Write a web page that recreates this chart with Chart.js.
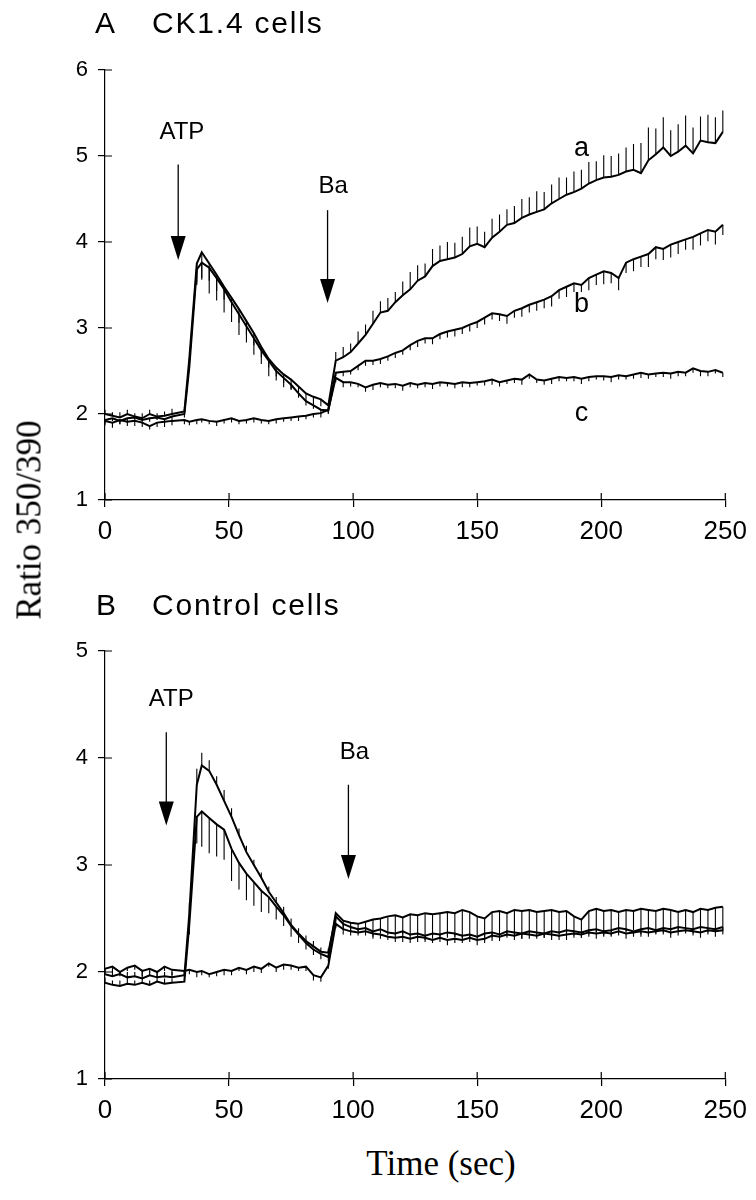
<!DOCTYPE html>
<html>
<head>
<meta charset="utf-8">
<script src="https://cdn.jsdelivr.net/npm/chart.js@4.4.1/dist/chart.umd.min.js"></script>
<style>
  html, body { margin: 0; padding: 0; background: #fff; }
  #page { position: relative; width: 756px; height: 1200px; overflow: hidden; }
  .wrap { position: absolute; left: 0; width: 756px; height: 560px; }
  .txt { position: absolute; white-space: nowrap; line-height: 1; color: #000; }
  .sans { font-family: 'Liberation Sans', Arial, sans-serif; font-size: 30px; letter-spacing: 1.8px; }
  .serif { font-family: 'Liberation Serif', 'Times New Roman', serif; font-size: 35px; }
</style>
</head>
<body>
<div id="page">
  <div class="wrap" style="top:0"><canvas id="chartA"></canvas></div>
  <div class="wrap" style="top:580px"><canvas id="chartB"></canvas></div>
  <div class="txt sans" style="left:95px;top:8px">A</div>
  <div class="txt sans" style="left:152px;top:8px">CK1.4 cells</div>
  <div class="txt sans" style="left:96px;top:590px">B</div>
  <div class="txt sans" style="left:152px;top:590px">Control cells</div>
  <div class="txt serif" style="left:29px;top:520px;transform:translate(-50%,-50%) rotate(-90deg)">Ratio 350/390</div>
  <div class="txt serif" style="left:441px;top:1146px;transform:translateX(-50%)">Time (sec)</div>
</div>
<script>
// time axis (sec), shared by both panels
const times = [0,3,6,9,12,15,18,21,24,27,32,34,37,39,42,45,48,51,54,57,60,63,66,69,72,75,78,81,84,87,90,
  93,96,99,102,105,108,111,114,117,120,123,126,129,132,135,138,141,144,147,150,153,156,159,162,165,168,171,174,177,180,
  183,186,189,192,195,198,201,204,207,210,213,216,219,222,225,228,231,234,237,240,243,246,249];
const xTicks = [0, 50, 100, 150, 200, 250];
const yTicksA = [1, 2, 3, 4, 5, 6];
const yTicksB = [1, 2, 3, 4, 5];

// Panel A: CK1.4 cells
const traceA_a = [2.00,1.98,1.96,2.00,1.97,1.95,2.00,1.97,1.98,2.00,2.03,
  2.65,3.75,3.88,3.75,3.62,3.48,3.35,3.22,3.08,2.94,2.78,2.64,2.54,2.46,2.40,2.32,2.24,2.20,2.17,2.10,
  2.62,2.66,2.72,2.82,2.92,3.05,3.18,3.20,3.30,3.38,
  3.45,3.55,3.60,3.72,3.78,3.80,3.82,3.86,3.95,3.98,
  3.94,4.05,4.12,4.20,4.22,4.28,4.32,4.35,4.38,4.45,
  4.50,4.55,4.58,4.62,4.68,4.72,4.75,4.76,4.78,4.82,
  4.84,4.80,4.95,5.02,5.10,5.00,5.05,5.12,5.03,5.18,
  5.16,5.15,5.28];
const traceA_b = [1.93,1.95,1.92,1.95,1.96,1.93,1.95,1.96,1.94,1.97,2.00,
  2.55,3.68,3.76,3.70,3.58,3.45,3.30,3.16,3.02,2.88,2.74,2.62,2.50,2.42,2.34,2.24,2.15,2.10,2.05,2.04,
  2.48,2.49,2.50,2.56,2.62,2.62,2.64,2.67,2.71,2.74,
  2.80,2.85,2.88,2.88,2.93,2.96,2.98,3.00,3.04,3.07,
  3.12,3.17,3.16,3.14,3.20,3.23,3.27,3.30,3.33,3.37,
  3.44,3.48,3.52,3.50,3.58,3.62,3.66,3.64,3.58,3.76,
  3.80,3.83,3.86,3.94,3.92,3.97,4.00,4.03,4.06,4.10,
  4.14,4.12,4.20];
const traceA_c = [1.92,1.90,1.93,1.91,1.92,1.90,1.86,1.90,1.91,1.92,1.93,
  1.91,1.93,1.94,1.92,1.91,1.93,1.95,1.92,1.93,1.95,1.93,1.92,1.94,1.95,1.96,1.97,1.98,2.00,2.01,2.05,
  2.42,2.37,2.37,2.35,2.31,2.34,2.36,2.34,2.35,2.33,
  2.36,2.34,2.36,2.35,2.37,2.36,2.35,2.37,2.36,2.37,
  2.38,2.40,2.37,2.39,2.41,2.40,2.46,2.40,2.39,2.41,
  2.43,2.42,2.43,2.41,2.43,2.44,2.44,2.43,2.45,2.44,
  2.46,2.48,2.46,2.47,2.48,2.47,2.49,2.48,2.53,2.50,
  2.49,2.51,2.48];
// signed SEM bars (+ drawn upward, - downward)
const errA_a = [0.05,0.04,0.06,0.05,0.04,0.06,0.05,0.04,0.05,0.06,0.05,
  -0.10,-0.25,-0.30,-0.35,-0.30,-0.30,-0.28,-0.30,-0.25,-0.25,-0.20,-0.20,-0.15,-0.15,-0.12,-0.12,-0.10,-0.10,-0.08,-0.05,
  0.10,0.12,0.10,0.14,0.12,0.15,0.13,0.15,0.12,0.16,
  0.20,0.18,0.15,0.20,0.18,0.20,0.17,0.20,0.22,0.20,
  0.18,0.22,0.20,0.18,0.20,0.22,0.20,0.24,0.20,0.22,
  0.25,0.20,0.24,0.22,0.25,0.22,0.26,0.24,0.25,0.28,
  0.30,0.35,0.38,0.30,0.35,0.30,0.32,0.35,0.30,0.28,
  0.32,0.30,0.25];
const errA_b = [-0.04,-0.03,-0.04,-0.05,-0.03,-0.04,-0.04,-0.03,-0.04,-0.05,-0.04,
  -0.05,-0.15,-0.20,-0.15,-0.15,-0.12,-0.12,-0.10,-0.10,-0.08,-0.08,-0.08,-0.06,-0.06,-0.05,-0.05,-0.05,-0.04,-0.04,-0.04,
  -0.04,-0.05,-0.04,-0.05,-0.06,-0.05,-0.06,-0.05,-0.06,-0.05,
  -0.06,-0.07,-0.06,-0.07,-0.06,-0.07,-0.08,-0.07,-0.08,-0.07,
  -0.08,-0.07,-0.08,-0.09,-0.08,-0.10,-0.09,-0.10,-0.10,-0.12,
  -0.10,-0.12,-0.10,-0.08,-0.14,-0.12,-0.15,-0.12,-0.14,-0.12,
  -0.14,-0.12,-0.15,-0.14,-0.13,-0.15,-0.14,-0.12,-0.15,-0.14,
  -0.13,-0.15,-0.12];
const errA_c = [-0.05,-0.06,-0.05,-0.05,-0.06,-0.05,-0.04,-0.05,-0.06,-0.05,-0.05,
  -0.04,-0.05,-0.04,-0.04,-0.05,-0.04,-0.05,-0.04,-0.04,-0.05,-0.04,-0.04,-0.05,-0.04,-0.04,-0.05,-0.04,-0.04,-0.05,-0.04,
  -0.05,-0.06,-0.05,-0.04,-0.05,-0.06,-0.05,-0.04,-0.05,-0.06,
  -0.05,-0.04,-0.05,-0.06,-0.05,-0.04,-0.05,-0.06,-0.05,-0.04,
  -0.05,-0.06,-0.05,-0.04,-0.05,-0.06,-0.05,-0.04,-0.05,-0.06,
  -0.05,-0.04,-0.05,-0.06,-0.05,-0.04,-0.05,-0.06,-0.05,-0.04,
  -0.05,-0.06,-0.05,-0.04,-0.05,-0.06,-0.05,-0.04,-0.05,-0.06,
  -0.05,-0.04,-0.05];

// Panel B: Control cells
const traceB_1 = [1.98,1.96,1.98,1.95,1.96,1.94,1.97,1.95,1.96,1.95,1.97,
  2.55,3.75,3.93,3.88,3.75,3.60,3.45,3.28,3.12,3.00,2.88,2.75,2.65,2.55,2.44,2.36,2.29,2.24,2.19,2.18,
  2.52,2.45,2.42,2.40,2.41,2.38,2.40,2.37,2.36,2.38,
  2.35,2.36,2.34,2.36,2.35,2.37,2.36,2.34,2.35,2.33,
  2.36,2.37,2.35,2.38,2.37,2.36,2.38,2.37,2.36,2.38,
  2.37,2.39,2.38,2.37,2.39,2.40,2.38,2.39,2.41,2.40,
  2.38,2.40,2.41,2.39,2.41,2.40,2.42,2.41,2.40,2.42,
  2.41,2.40,2.42];
const traceB_2 = [1.90,1.88,1.87,1.89,1.88,1.90,1.88,1.91,1.89,1.90,1.91,
  2.45,3.45,3.50,3.44,3.38,3.33,3.15,3.02,2.92,2.84,2.76,2.70,2.61,2.53,2.43,2.35,2.27,2.21,2.17,2.14,
  2.55,2.48,2.46,2.45,2.47,2.49,2.50,2.52,2.53,2.51,
  2.54,2.53,2.55,2.54,2.55,2.56,2.55,2.58,2.56,2.52,
  2.50,2.56,2.57,2.55,2.58,2.57,2.58,2.56,2.57,2.58,
  2.56,2.57,2.52,2.49,2.57,2.59,2.57,2.58,2.56,2.58,
  2.57,2.59,2.58,2.57,2.59,2.58,2.56,2.58,2.56,2.59,
  2.58,2.60,2.61];
const traceB_3 = [2.03,2.05,2.00,2.04,2.06,2.01,2.03,2.00,2.05,2.02,2.01,
  2.02,2.00,2.01,1.98,2.00,2.02,2.01,2.04,2.02,2.05,2.03,2.08,2.04,2.07,2.06,2.04,2.05,1.97,1.95,2.06,
  2.45,2.40,2.38,2.37,2.38,2.36,2.35,2.33,2.32,2.33,
  2.31,2.33,2.32,2.30,2.32,2.30,2.31,2.30,2.32,2.30,
  2.31,2.34,2.33,2.35,2.34,2.36,2.35,2.34,2.36,2.35,
  2.34,2.35,2.36,2.35,2.37,2.36,2.37,2.36,2.38,2.36,
  2.37,2.38,2.37,2.38,2.39,2.37,2.38,2.39,2.38,2.37,
  2.39,2.38,2.39];
const errB_1 = [0.04,0.05,0.03,0.05,0.04,0.06,0.04,0.05,0.04,0.05,0.04,
  0.10,0.15,0.12,0.10,0.08,0.10,0.08,0.06,0.06,0.05,0.05,0.05,0.05,0.06,0.06,0.05,0.05,0.05,0.04,0.04,
  -0.04,-0.05,-0.04,-0.03,-0.04,-0.05,-0.04,-0.03,-0.04,-0.05,
  -0.04,-0.03,-0.04,-0.05,-0.04,-0.03,-0.04,-0.05,-0.04,-0.03,
  -0.04,-0.05,-0.04,-0.03,-0.04,-0.05,-0.04,-0.03,-0.04,-0.05,
  -0.04,-0.03,-0.04,-0.05,-0.04,-0.03,-0.04,-0.05,-0.04,-0.03,
  -0.04,-0.05,-0.04,-0.03,-0.04,-0.05,-0.04,-0.03,-0.04,-0.05,
  -0.04,-0.03,-0.04];
const errB_2 = [0.05,0.04,0.05,0.06,0.04,0.05,0.04,0.06,0.05,0.04,0.05,
  -0.10,-0.25,-0.33,-0.33,-0.30,-0.28,-0.30,-0.25,-0.25,-0.22,-0.20,-0.15,-0.12,-0.10,-0.10,-0.08,-0.06,-0.05,-0.05,-0.04,
  -0.10,-0.08,-0.08,-0.07,-0.09,-0.11,-0.12,-0.15,-0.18,-0.16,
  -0.20,-0.18,-0.22,-0.20,-0.22,-0.24,-0.22,-0.26,-0.24,-0.20,
  -0.18,-0.22,-0.24,-0.20,-0.24,-0.22,-0.22,-0.20,-0.22,-0.24,
  -0.20,-0.22,-0.16,-0.12,-0.20,-0.22,-0.20,-0.21,-0.19,-0.20,
  -0.18,-0.20,-0.19,-0.18,-0.20,-0.19,-0.17,-0.19,-0.17,-0.20,
  -0.18,-0.20,-0.22];
const errB_3 = [-0.04,-0.05,-0.04,-0.03,-0.04,-0.05,-0.04,-0.03,-0.04,-0.05,-0.04,
  -0.04,-0.05,-0.04,-0.03,-0.04,-0.05,-0.04,-0.03,-0.04,-0.05,-0.04,-0.03,-0.04,-0.05,-0.04,-0.03,-0.04,-0.05,-0.04,-0.03,
  -0.04,-0.05,-0.04,-0.03,-0.04,-0.05,-0.04,-0.03,-0.04,-0.05,
  -0.04,-0.05,-0.04,-0.03,-0.04,-0.05,-0.04,-0.03,-0.04,-0.05,
  -0.04,-0.05,-0.04,-0.03,-0.04,-0.05,-0.04,-0.03,-0.04,-0.05,
  -0.04,-0.05,-0.04,-0.03,-0.04,-0.05,-0.04,-0.03,-0.04,-0.05,
  -0.04,-0.05,-0.04,-0.03,-0.04,-0.05,-0.04,-0.03,-0.04,-0.05,
  -0.04,-0.05,-0.04];

// annotations, in data units (time, ratio)
const labelsA = [['ATP', 31, 5.27], ['Ba', 92, 4.65], ['a', 192, 5.09], ['b', 192, 3.27], ['c', 192, 2.0]];
const arrowsA = [[29.5, 4.90, 3.79], [89.7, 4.37, 3.29]];
const labelsB = [['ATP', 26.7, 4.55], ['Ba', 100.5, 4.05]];
const arrowsB = [[24.7, 4.24, 3.37], [98.1, 3.75, 2.87]];

function points(vals) {
    return times.map((t, i) => ({ x: t, y: vals[i] }));
}

function trace(vals, errs) {
    return {
        data: points(vals),
        errors: errs,
        borderColor: '#000',
        borderWidth: 2,
        pointRadius: 0,
        tension: 0,
        fill: false
    };
}

// SEM bars drawn with the chart's own scales
const errorBars = {
    id: 'errorBars',
    afterDatasetsDraw(chart) {
        const { ctx, scales: { x, y } } = chart;
        ctx.save();
        ctx.strokeStyle = '#000';
        ctx.lineWidth = 1.1;
        chart.data.datasets.forEach(ds => {
            if (!ds.errors) return;
            ctx.beginPath();
            ds.data.forEach((p, i) => {
                const e = ds.errors[i];
                if (!e) return;
                const px = x.getPixelForValue(p.x);
                ctx.moveTo(px, y.getPixelForValue(p.y));
                ctx.lineTo(px, y.getPixelForValue(p.y + e));
            });
            ctx.stroke();
        });
        ctx.restore();
    }
};

// ticks in the reference cross the axis; chart.js only draws the outer half
const innerTicks = {
    id: 'innerTicks',
    afterDraw(chart) {
        const { ctx, scales: { x, y } } = chart;
        ctx.save();
        ctx.strokeStyle = '#000';
        ctx.lineWidth = 1.2;
        ctx.beginPath();
        x.ticks.forEach(t => {
            const px = x.getPixelForValue(t.value);
            ctx.moveTo(px, y.bottom);
            ctx.lineTo(px, y.bottom - 7);
        });
        y.ticks.forEach(t => {
            const py = y.getPixelForValue(t.value);
            ctx.moveTo(x.left, py);
            ctx.lineTo(x.left + 7, py);
        });
        ctx.stroke();
        ctx.restore();
    }
};

function notes(id, labels, arrows) {
    return {
        id: id,
        afterDraw(chart) {
            const { ctx, scales: { x, y } } = chart;
            ctx.save();
            ctx.fillStyle = '#000';
            ctx.strokeStyle = '#000';
            ctx.lineWidth = 1.3;
            ctx.textAlign = 'center';
            ctx.textBaseline = 'middle';
            labels.forEach(([text, t, v]) => {
                ctx.font = (text.length > 1 ? '24px' : '27px') + ' "Liberation Sans", Arial, sans-serif';
                ctx.fillText(text, x.getPixelForValue(t), y.getPixelForValue(v));
            });
            arrows.forEach(([t, from, to]) => {
                const px = x.getPixelForValue(t);
                const top = y.getPixelForValue(from);
                const tip = y.getPixelForValue(to);
                ctx.beginPath();
                ctx.moveTo(px, top);
                ctx.lineTo(px, tip - 20);
                ctx.stroke();
                ctx.beginPath();
                ctx.moveTo(px - 7.5, tip - 24);
                ctx.lineTo(px + 7.5, tip - 24);
                ctx.lineTo(px, tip);
                ctx.closePath();
                ctx.fill();
            });
            ctx.restore();
        }
    };
}

function options(yTicks, topPad, xHeight) {
    return {
        responsive: true,
        maintainAspectRatio: false,
        animation: false,
        layout: { padding: { top: topPad, right: 24, left: 0, bottom: 0 } },
        plugins: { legend: { display: false }, tooltip: { enabled: false } },
        scales: {
            x: {
                type: 'linear',
                min: 0,
                max: 250,
                afterBuildTicks: s => { s.ticks = xTicks.map(v => ({ value: v })); },
                afterFit: s => { s.height = xHeight; },
                grid: { drawOnChartArea: false, drawTicks: true, tickLength: 7, color: '#000', lineWidth: 1.2 },
                border: { display: true, color: '#000', width: 1.2 },
                ticks: {
                    color: '#000',
                    padding: 9,
                    maxRotation: 0,
                    font: { family: "'Liberation Sans', Arial, sans-serif", size: 26 }
                }
            },
            y: {
                type: 'linear',
                min: yTicks[0],
                max: yTicks[yTicks.length - 1],
                afterBuildTicks: s => { s.ticks = yTicks.map(v => ({ value: v })); },
                afterFit: s => { s.width = 105; },
                grid: { drawOnChartArea: false, drawTicks: true, tickLength: 7, color: '#000', lineWidth: 1.2 },
                border: { display: true, color: '#000', width: 1.2 },
                ticks: {
                    color: '#000',
                    padding: 10,
                    font: { family: "'Liberation Sans', Arial, sans-serif", size: 22 }
                }
            }
        }
    };
}

document.addEventListener('DOMContentLoaded', function () {
    new Chart(document.getElementById('chartA'), {
        type: 'line',
        data: {
            datasets: [
                trace(traceA_a, errA_a),
                trace(traceA_b, errA_b),
                trace(traceA_c, errA_c)
            ]
        },
        options: options(yTicksA, 70, 60),
        plugins: [errorBars, innerTicks, notes('notesA', labelsA, arrowsA)]
    });

    new Chart(document.getElementById('chartB'), {
        type: 'line',
        data: {
            datasets: [
                trace(traceB_1, errB_1),
                trace(traceB_2, errB_2),
                trace(traceB_3, errB_3)
            ]
        },
        options: options(yTicksB, 71, 61),
        plugins: [errorBars, innerTicks, notes('notesB', labelsB, arrowsB)]
    });
});
</script>
</body>
</html>
